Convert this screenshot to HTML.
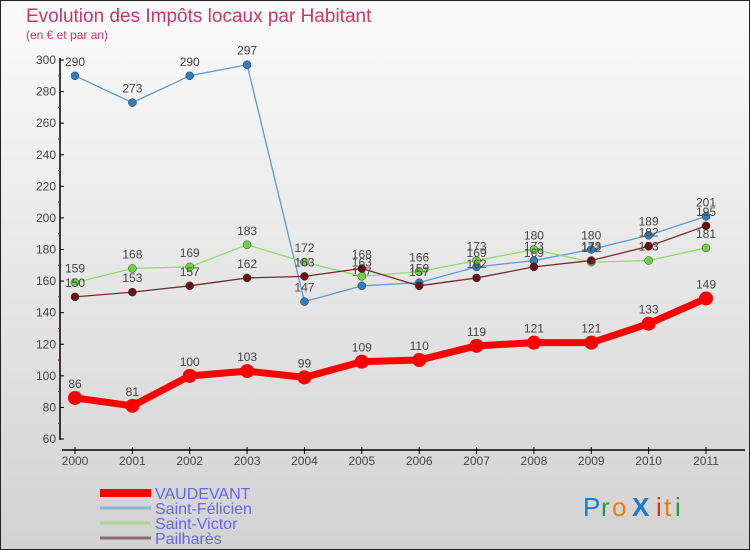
<!DOCTYPE html>
<html><head><meta charset="utf-8"><style>
body{margin:0;}
#c{position:relative;width:750px;height:550px;overflow:hidden;}
svg text{font-family:"Liberation Sans","DejaVu Sans",sans-serif;}
</style></head><body>
<div id="c">
<svg id="s" width="750" height="550" xmlns="http://www.w3.org/2000/svg">
<defs><linearGradient id="bg" x1="0" y1="0" x2="0" y2="1"><stop offset="0" stop-color="#fbfbfb"/><stop offset="1" stop-color="#d2d2d2"/></linearGradient></defs>
<rect x="0.5" y="0.5" width="749" height="549" fill="url(#bg)" stroke="#222"/>
<text x="26" y="22" font-size="19" fill="#c8366a">Evolution des Impôts locaux par Habitant</text>
<text x="26" y="39" font-size="12" fill="#c8366a">(en € et par an)</text>
<g id="axes"></g><g id="series"></g><g id="legend"></g>
<g font-size="26">
<text x="583" y="516" fill="#1a7ad0">P</text><text x="601" y="516" fill="#2a9a3a">r</text><text x="612" y="516" fill="#f07a10">o</text><text x="632" y="516" fill="#1a7ad0" font-weight="bold">X</text><text x="656" y="516" fill="#e03020">i</text><text x="664" y="516" fill="#f07a10">t</text><text x="675" y="516" fill="#2a9a3a">i</text>
</g>
</svg></div>
<script>
const years=[2000,2001,2002,2003,2004,2005,2006,2007,2008,2009,2010,2011];
const vaudevant=[86,81,100,103,99,109,110,119,121,121,133,149];
const saintFelicien=[290,273,290,297,147,157,159,169,173,180,189,201];
const saintVictor=[159,168,169,183,172,163,166,173,180,172,173,181];
const pailhares=[150,153,157,162,163,168,157,162,169,173,182,195];
const yTicks=[60,80,100,120,140,160,180,200,220,240,260,280,300];
const NS="http://www.w3.org/2000/svg";
function xs(i){return 75+i*(706-75)/(years.length-1);}
function ys(v){return 439-(v-60)*(439-60)/240;}
function mk(t,a,p){const e=document.createElementNS(NS,t);for(const k in a)e.setAttribute(k,a[k]);p.appendChild(e);return e;}
const ax=document.getElementById('axes');
const yl=mk('line',{x1:60,y1:58,x2:60,y2:440,stroke:'#000','stroke-width':1.5},ax);


yTicks.forEach(v=>{
 mk('line',{x1:60,x2:64,y1:ys(v),y2:ys(v),stroke:'#000'},ax);
 if(v<300)mk('line',{x1:58,x2:60,y1:ys(v+10),y2:ys(v+10),stroke:'#e00'},ax);
 const t=mk('text',{x:56,y:ys(v)+4,'text-anchor':'end','font-size':12,fill:'#444'},ax);t.textContent=v;
 
 
});
const xl=mk('line',{x1:62,y1:450,x2:745,y2:450,stroke:'#000','stroke-width':1.5},ax);


years.forEach((y,i)=>{
 mk('line',{x1:xs(i),x2:xs(i),y1:447,y2:454,stroke:'#000'},ax);
 const t=mk('text',{x:xs(i),y:465,'text-anchor':'middle','font-size':12,fill:'#444'},ax);t.textContent=y;
 
 
});
const sg=document.getElementById('series');
const series=[
 {n:'saint-felicien',d:saintFelicien,c:'#5b9bd5',pc:'#2e7dc0',w:1.3,r:4},
 {n:'saint-victor',d:saintVictor,c:'#8fdc6c',pc:'#6cd43c',w:1.3,r:4},
 {n:'pailhares',d:pailhares,c:'#7a2a2a',pc:'#6a1010',w:1.3,r:4},
 {n:'vaudevant',d:vaudevant,c:'#f00',pc:'#f00',w:7,r:7}];
series.forEach(s=>{
 const g=mk('g',{},sg);
 
 
 mk('polyline',{points:s.d.map((v,i)=>xs(i)+','+ys(v)).join(' '),fill:'none',stroke:s.c,'stroke-width':s.w,'stroke-linejoin':'round'},g);
 s.d.forEach((v,i)=>{
  const c=mk('circle',{cx:xs(i),cy:ys(v),r:s.r,fill:s.pc,stroke:'#333','stroke-width':s.r>5?0:0.5},g);
  
  
  const t=mk('text',{x:xs(i),y:ys(v)-10,'text-anchor':'middle','font-size':12,fill:'#444'},g);t.textContent=v;
  
  
 });
});
const lg=document.getElementById('legend');
const leg=[['VAUDEVANT','#f00',8],['Saint-Félicien','#8ab4d8',3],['Saint-Victor','#a8d890',3],['Pailharès','#8a6a6a',3]];
leg.forEach((l,i)=>{
 const y=493+i*15;
 const g=mk('g',{},lg);
 
 
 mk('line',{x1:100,x2:151,y1:y,y2:y,stroke:l[1],'stroke-width':l[2]},g);
 const t=mk('text',{x:155,y:y+6,'font-size':16,fill:'#6666ee'},g);t.textContent=l[0];
});
</script></body></html>
